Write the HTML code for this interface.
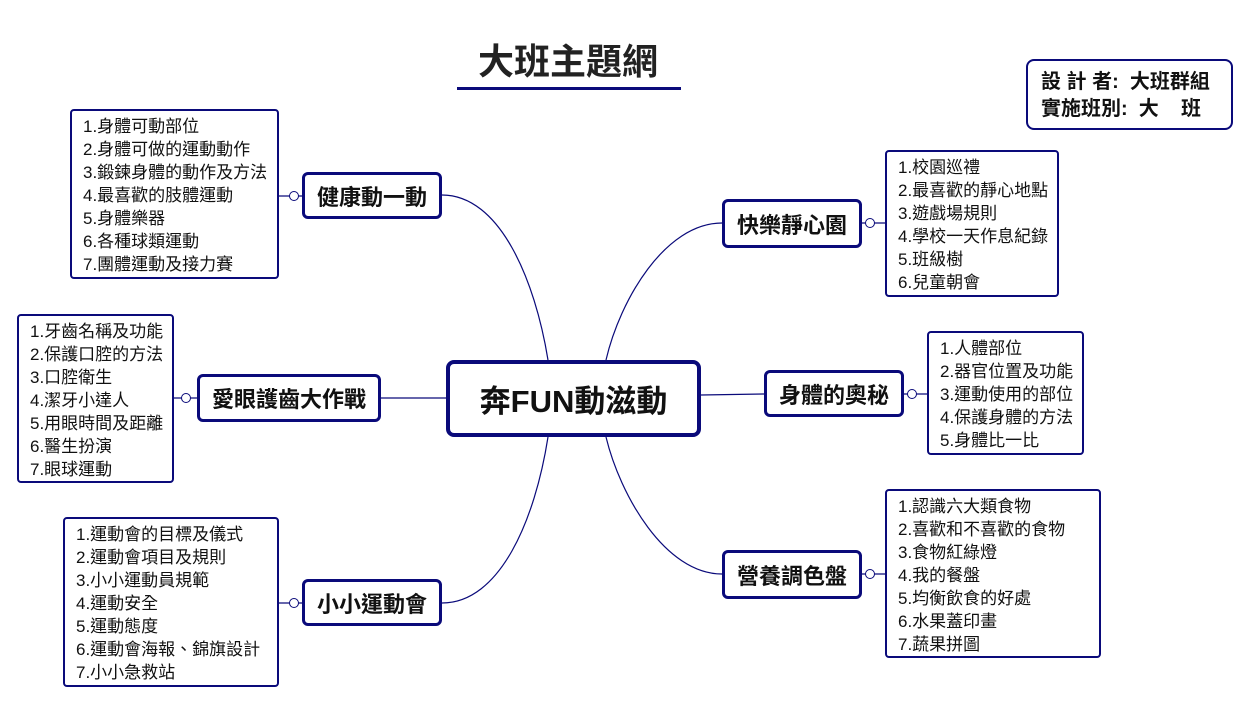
<!DOCTYPE html>
<html><head><meta charset="utf-8"><style>
body{margin:0;width:1250px;height:704px;background:#fff;position:relative;overflow:hidden;font-family:"Liberation Sans","Noto Sans CJK TC",sans-serif;}
.a{position:absolute;box-sizing:border-box;}
.leaf{border:2px solid #0a0a7a;border-radius:4px;font-size:17px;line-height:23px;padding:4px 0 0 11px;color:#111;white-space:nowrap;}
.main{border:3px solid #0a0a7a;border-radius:6px;font-size:22px;font-weight:bold;display:flex;align-items:center;justify-content:center;color:#111;}
</style></head><body>
<svg class="a" style="left:0;top:0" width="1250" height="704">
<g fill="none" stroke="#0a0a7a" stroke-width="1.2">
<path d="M442,195 C500,195 535,280 548,360"/>
<path d="M381,398 L446,398"/>
<path d="M442,603 C500,603 535,520 548,437"/>
<path d="M722,223 C665,223 620,300 606,360"/>
<path d="M764,394 L701,395"/>
<path d="M722,574 C665,574 620,495 606,437"/>
<path d="M279,196 L302,196"/><path d="M174,398 L197,398"/><path d="M279,603 L302,603"/>
<path d="M862,223 L885,223"/><path d="M904,394 L927,394"/><path d="M862,574 L885,574"/>
</g>
<g fill="#fff" stroke="#0a0a7a" stroke-width="1">
<circle cx="294" cy="196" r="4.5"/><circle cx="186" cy="398" r="4.5"/><circle cx="294" cy="603" r="4.5"/>
<circle cx="870" cy="223" r="4.5"/><circle cx="912" cy="394" r="4.5"/><circle cx="870" cy="574" r="4.5"/>
</g>
<rect x="457" y="87" width="224" height="3" fill="#0a0a7a"/>
</svg>
<div class="a" style="left:440px;top:33px;width:256px;text-align:center;font-size:36px;font-weight:bold;color:#222;">大班主題網</div>
<div class="a" style="left:1026px;top:59px;width:207px;height:71px;border:2px solid #0a0a7a;border-radius:8px;font-size:20px;font-weight:bold;line-height:27px;padding:8px 0 0 13px;color:#111;white-space:pre;">設 計 者:  大班群組
實施班別:  大    班</div>
<div class="a main" style="left:446px;top:360px;width:255px;height:77px;border-width:4px;border-radius:8px;font-size:31px;">奔FUN動滋動</div>
<div class="a main" style="left:302px;top:172px;width:140px;height:47px;">健康動一動</div>
<div class="a main" style="left:197px;top:374px;width:184px;height:48px;">愛眼護齒大作戰</div>
<div class="a main" style="left:302px;top:579px;width:140px;height:47px;">小小運動會</div>
<div class="a main" style="left:722px;top:199px;width:140px;height:49px;">快樂靜心園</div>
<div class="a main" style="left:764px;top:370px;width:140px;height:47px;">身體的奧秘</div>
<div class="a main" style="left:722px;top:550px;width:140px;height:49px;">營養調色盤</div>
<div class="a leaf" style="left:70px;top:109px;width:209px;height:170px;">1.身體可動部位<br>2.身體可做的運動動作<br>3.鍛鍊身體的動作及方法<br>4.最喜歡的肢體運動<br>5.身體樂器<br>6.各種球類運動<br>7.團體運動及接力賽</div>
<div class="a leaf" style="left:17px;top:314px;width:157px;height:169px;">1.牙齒名稱及功能<br>2.保護口腔的方法<br>3.口腔衛生<br>4.潔牙小達人<br>5.用眼時間及距離<br>6.醫生扮演<br>7.眼球運動</div>
<div class="a leaf" style="left:63px;top:517px;width:216px;height:170px;">1.運動會的目標及儀式<br>2.運動會項目及規則<br>3.小小運動員規範<br>4.運動安全<br>5.運動態度<br>6.運動會海報、錦旗設計<br>7.小小急救站</div>
<div class="a leaf" style="left:885px;top:150px;width:174px;height:147px;">1.校園巡禮<br>2.最喜歡的靜心地點<br>3.遊戲場規則<br>4.學校一天作息紀錄<br>5.班級樹<br>6.兒童朝會</div>
<div class="a leaf" style="left:927px;top:331px;width:157px;height:124px;">1.人體部位<br>2.器官位置及功能<br>3.運動使用的部位<br>4.保護身體的方法<br>5.身體比一比</div>
<div class="a leaf" style="left:885px;top:489px;width:216px;height:169px;">1.認識六大類食物<br>2.喜歡和不喜歡的食物<br>3.食物紅綠燈<br>4.我的餐盤<br>5.均衡飲食的好處<br>6.水果蓋印畫<br>7.蔬果拼圖</div>
</body></html>
